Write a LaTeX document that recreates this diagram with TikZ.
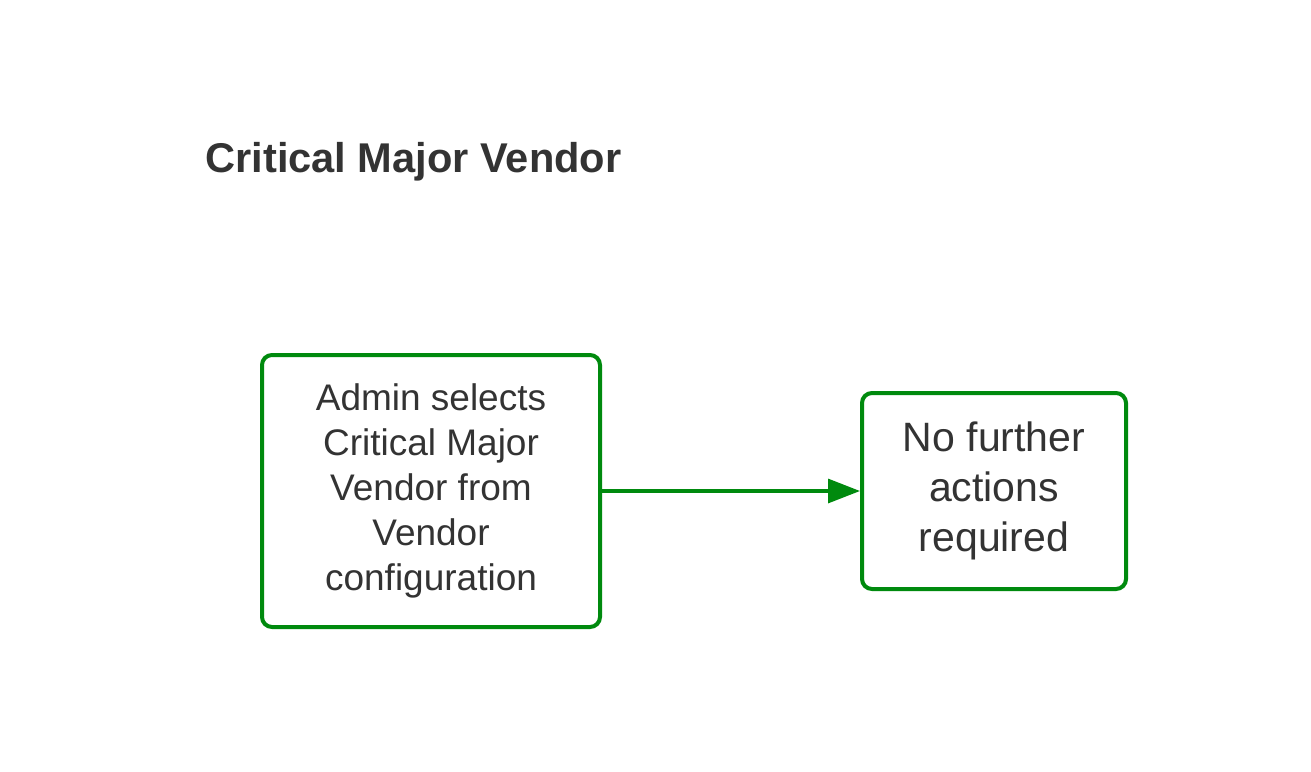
\documentclass[tikz,border=0pt]{standalone}
\usepackage{fontspec}
\setmainfont{Liberation Sans}
\usetikzlibrary{arrows.meta}
\definecolor{boxgreen}{RGB}{0,138,14}
\definecolor{inkgray}{RGB}{51,51,51}

\begin{document}
\begin{tikzpicture}[
  x=0.5pt,y=-0.5pt,
  step box/.style={draw=boxgreen,line width=2pt,rounded corners=5pt,
    align=center,text=inkgray,inner sep=0pt},
  flow/.style={boxgreen,line width=1.6pt,-{Triangle[length=16pt,width=12pt]}}
]
  \useasboundingbox[fill=white] (0,0) rectangle (1311,771);
  \node[anchor=base west,text=inkgray,inner sep=0pt,font=\fontsize{20.8}{25}\selectfont\bfseries]
    (title) at (205,172) {Critical Major Vendor};
  \node[step box,minimum width=169pt,minimum height=136pt,
    font=\fontsize{18.5}{22.5}\selectfont] (select) at (431,491)
    {Admin selects\\Critical Major\\Vendor from\\Vendor\\configuration};
  \node[step box,minimum width=132pt,minimum height=98pt,
    font=\fontsize{20.5}{25}\selectfont] (done) at (994,491)
    {No further\\actions\\required};
  \draw[flow] (select) -- (done);
\end{tikzpicture}
\end{document}
